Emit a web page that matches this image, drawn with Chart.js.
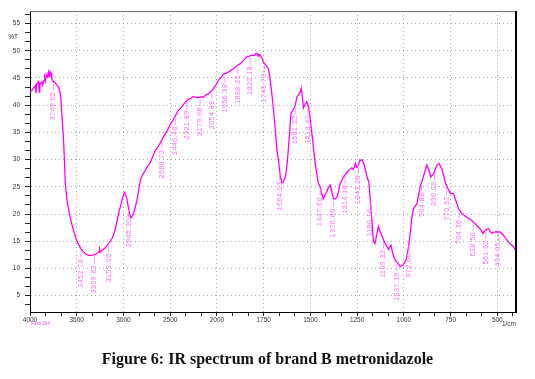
<!DOCTYPE html>
<html>
<head>
<meta charset="utf-8">
<script src="https://cdn.jsdelivr.net/npm/chart.js"></script>
<style>
  html, body { margin: 0; padding: 0; background: #fff; }
  #wrap { position: relative; width: 535px; height: 379px; }
  #chart { position: absolute; left: 0; top: 0; }
  #caption { position: absolute; left: 0; top: 350px; width: 535px; text-align: center;
    font: bold 16px "Liberation Serif", "Times New Roman", serif; line-height: 18px; color: #111; }
</style>
</head>
<body>
<div id="wrap">
  <canvas id="chart" width="535" height="379"></canvas>
  <div id="caption">Figure 6: IR spectrum of brand B metronidazole</div>
</div>
<script>
// spectrum (cm-1, %T)
const wavenumbers = [
  4000, 3989, 3975, 3965, 3952, 3943, 3936, 3930, 3920, 3911, 3905, 3901, 3895, 3885, 3872, 3865,
  3858, 3850, 3842, 3834, 3826, 3815, 3808, 3801, 3795, 3788, 3782, 3775, 3767, 3758, 3748, 3738,
  3729, 3720, 3711, 3697, 3683, 3675, 3668, 3655, 3641, 3633, 3622, 3604, 3587, 3569, 3552, 3534,
  3510, 3487, 3457, 3427, 3400, 3373, 3345, 3320, 3300, 3280, 3262, 3256, 3250, 3230, 3200, 3176,
  3150, 3123, 3105, 3088, 3070, 3052, 3034, 3016, 3000, 2991, 2977, 2963, 2948, 2935, 2920, 2905,
  2892, 2875, 2856, 2838, 2820, 2795, 2767, 2740, 2713, 2685, 2660, 2620, 2585, 2540, 2500, 2455,
  2411, 2393, 2380, 2355, 2321, 2286, 2250, 2220, 2197, 2170, 2143, 2115, 2090, 2060, 2036, 2015,
  2000, 1991, 1978, 1965, 1947, 1929, 1911, 1893, 1880, 1866, 1852, 1840, 1826, 1813, 1800, 1792,
  1786, 1780, 1775, 1768, 1760, 1751, 1738, 1724, 1715, 1706, 1697, 1688, 1679, 1670, 1661, 1652,
  1645, 1634, 1625, 1617, 1610, 1604, 1590, 1581, 1572, 1563, 1554, 1549, 1543, 1537, 1528, 1519,
  1510, 1501, 1492, 1483, 1474, 1465, 1457, 1448, 1440, 1431, 1422, 1413, 1404, 1394, 1385, 1376,
  1367, 1358, 1350, 1341, 1323, 1310, 1296, 1278, 1269, 1260, 1252, 1243, 1235, 1224, 1212, 1198,
  1187, 1172, 1163, 1154, 1144, 1136, 1127, 1118, 1100, 1082, 1069, 1059, 1046, 1029, 1020, 1012,
  1005, 988, 975, 966, 957, 948, 930, 913, 904, 886, 877, 865, 856, 841, 823, 811,
  797, 778, 769, 752, 734, 716, 708, 690, 663, 636, 610, 592, 577, 565, 547, 533,
  511, 485, 467, 449, 432, 414, 400
];
const transmittance = [
  42.4, 42.6, 42.8, 43.1, 43.4, 43.6, 42.2, 43.9, 44.0, 44.3, 43.2, 42.4, 43.8, 44.1, 44.3, 43.7,
  44.0, 44.6, 45.1, 44.5, 45.6, 45.2, 45.9, 46.2, 45.3, 45.7, 46.1, 45.9, 44.8, 44.6, 44.3, 44.3,
  44.0, 43.9, 43.7, 43.4, 42.7, 42.0, 40.9, 37.2, 33.6, 30.5, 25.6, 22.5, 20.8, 19.4, 18.1, 17.0,
  15.6, 14.6, 13.7, 13.0, 12.6, 12.4, 12.4, 12.5, 12.6, 12.8, 13.0, 13.6, 13.0, 13.3, 13.7, 14.2,
  14.8, 15.5, 16.2, 17.2, 18.6, 20.1, 21.3, 22.5, 23.5, 24.0, 23.6, 22.8, 21.3, 20.1, 19.3, 19.6,
  20.1, 21.2, 22.5, 24.3, 26.2, 27.2, 28.0, 28.8, 29.5, 30.6, 31.7, 32.6, 33.8, 35.1, 36.4, 37.7,
  39.1, 39.4, 39.6, 40.2, 40.9, 41.2, 41.6, 41.4, 41.4, 41.5, 41.5, 41.9, 42.1, 42.6, 43.1, 43.6,
  44.0, 44.6, 45.1, 45.7, 45.9, 46.3, 46.7, 47.3, 47.5, 47.9, 48.5, 48.9, 49.0, 49.2, 49.1, 49.5,
  49.5, 49.0, 49.3, 49.2, 48.7, 47.9, 47.3, 46.7, 44.6, 42.0, 39.1, 35.5, 31.7, 29.8, 26.8, 25.7,
  25.9, 26.8, 29.0, 32.3, 35.5, 38.5, 39.3, 40.0, 41.5, 42.0, 42.4, 43.1, 41.5, 39.5, 40.2, 40.6,
  39.7, 37.5, 34.8, 32.0, 29.3, 27.2, 25.6, 25.0, 23.8, 22.8, 23.5, 24.0, 24.8, 25.3, 24.0, 22.8,
  22.8, 23.1, 24.0, 25.6, 26.8, 27.4, 28.0, 28.5, 28.2, 29.3, 28.6, 29.0, 29.8, 30.0, 29.0, 27.0,
  25.8, 19.4, 15.0, 14.6, 16.4, 17.7, 16.8, 16.0, 14.6, 13.5, 14.3, 12.7, 11.5, 10.9, 10.3, 10.5,
  10.6, 11.5, 14.0, 16.4, 19.4, 21.0, 21.9, 25.0, 25.9, 28.0, 29.0, 28.0, 26.8, 27.4, 29.0, 29.3,
  28.3, 25.8, 25.0, 23.8, 23.7, 21.9, 21.0, 20.1, 19.4, 18.8, 17.9, 17.3, 16.4, 17.0, 17.3, 16.5,
  16.7, 16.7, 16.1, 15.2, 14.6, 14.0, 13.2
];
// peak picks printed under the curve
const peakWavenumbers = [
  3749.62, 3452.72, 3309.62, 3159.06, 2945.30, 2588.73, 2446.48, 2321.89, 2179.98, 2054.89,
  1956.38, 1888.25, 1822.18, 1745.70, 1664.03, 1581.23, 1513.47, 1447.60, 1376.60, 1314.18,
  1243.20, 1180.16, 1109.23, 1037.16, 972.60, 904.88, 836.08, 770.37, 704.36, 628.50, 561.62, 494.05
];
const xTickLabels = [4000, 3500, 3000, 2500, 2000, 1750, 1500, 1250, 1000, 750, 500];
const yTickLabels = [5, 10, 15, 20, 25, 30, 35, 40, 45, 50, 55];

// the instrument doubles the scale below 2000 cm-1
const toAxis = w => w >= 2000 ? (4000 - w) / 2 : 1000 + (2000 - w);
const fromAxis = p => p <= 1000 ? 4000 - 2 * p : 2000 - (p - 1000);

const xMajor = xTickLabels.map(toAxis);
const xTicks = [];
xMajor.forEach((p, i) => {
  xTicks.push(p);
  const next = i < xMajor.length - 1 ? xMajor[i + 1] : p + 250;
  xTicks.push(p + (next - p) / 3);
  if (i < xMajor.length - 1) xTicks.push(p + 2 * (next - p) / 3);
});
const yTicks = [];
for (let k = 2; k <= 34; k++) yTicks.push(k * 5 / 3);

const isMajorX = v => xMajor.some(m => Math.abs(m - v) < 1e-6);
const isMajorY = v => yTickLabels.some(m => Math.abs(m - v) < 1e-6);

const curveAt = w => {
  for (let i = 0; i < wavenumbers.length - 1; i++) {
    const a = wavenumbers[i], b = wavenumbers[i + 1];
    if (w <= a && w >= b) {
      const t = (a - w) / (a - b);
      return transmittance[i] + t * (transmittance[i + 1] - transmittance[i]);
    }
  }
  return transmittance[transmittance.length - 1];
};

const tickFont = { family: '"Liberation Sans", Arial, sans-serif', size: 6.5 };
const gridGray = 'rgba(140,140,140,0.75)';

const decorations = {
  id: 'decorations',
  afterDatasetsDraw(chart) {
    const { ctx, scales: { x, y } } = chart;
    ctx.save();
    ctx.font = '7px "Liberation Sans", Arial, sans-serif';
    ctx.letterSpacing = '0.5px';
    ctx.fillStyle = '#ff66ff';
    ctx.strokeStyle = '#ff80ff';
    ctx.lineWidth = 0.8;
    peakWavenumbers.forEach(w => {
      const px = x.getPixelForValue(toAxis(w));
      const py = y.getPixelForValue(curveAt(w));
      ctx.beginPath();
      ctx.moveTo(px, py + 2);
      ctx.lineTo(px, py + 9);
      ctx.stroke();
      ctx.save();
      ctx.translate(px, py + 10);
      ctx.rotate(-Math.PI / 2);
      ctx.textAlign = 'right';
      ctx.textBaseline = 'middle';
      ctx.fillText(w.toFixed(2), 0, 0);
      ctx.restore();
    });
    ctx.restore();
  },
  afterDraw(chart) {
    const { ctx, chartArea: a } = chart;
    ctx.save();
    ctx.strokeStyle = '#777';
    ctx.lineWidth = 1;
    ctx.beginPath();
    ctx.moveTo(a.left, a.top + 0.5);
    ctx.lineTo(a.right, a.top + 0.5);
    ctx.stroke();
    ctx.strokeStyle = '#000';
    ctx.lineWidth = 2;
    ctx.beginPath();
    ctx.moveTo(a.right, a.top);
    ctx.lineTo(a.right, a.bottom);
    ctx.stroke();
    ctx.fillStyle = '#333';
    ctx.font = '6.5px "Liberation Sans", Arial, sans-serif';
    ctx.textAlign = 'center';
    ctx.textBaseline = 'middle';
    ctx.fillText('%T', 13, 37);
    ctx.textAlign = 'right';
    ctx.fillText('1/cm', a.right, 324);
    ctx.fillStyle = '#ff44ff';
    ctx.font = '4.5px "Liberation Sans", Arial, sans-serif';
    ctx.textAlign = 'left';
    ctx.fillText('Fuso 204', 31, 324);
    ctx.restore();
  }
};

new Chart(document.getElementById('chart'), {
  type: 'line',
  data: {
    datasets: [{
      data: wavenumbers.map((w, i) => ({ x: toAxis(w), y: transmittance[i] })),
      borderColor: '#ff00ff',
      borderWidth: 1.3,
      pointRadius: 0,
      tension: 0,
      fill: false
    }]
  },
  options: {
    responsive: false,
    animation: false,
    layout: { padding: { top: 11, left: 0, right: 19, bottom: 47 } },
    plugins: { legend: { display: false }, tooltip: { enabled: false } },
    scales: {
      x: {
        type: 'linear',
        min: 0,
        max: 2600,
        afterBuildTicks: s => { s.ticks = xTicks.map(v => ({ value: v })); },
        afterFit: s => { s.height = 20; },
        ticks: {
          autoSkip: false,
          maxRotation: 0,
          padding: 0,
          color: '#333',
          font: tickFont,
          callback: v => isMajorX(v) ? String(fromAxis(v)) : ''
        },
        grid: {
          color: c => c.tick && isMajorX(c.tick.value) ? gridGray : 'rgba(0,0,0,0)',
          tickColor: '#222',
          tickLength: 4,
          tickBorderDash: [],
          lineWidth: 1
        },
        border: { color: '#000', width: 1, dash: [1, 3] }
      },
      y: {
        min: 2,
        max: 57.3,
        afterBuildTicks: s => { s.ticks = yTicks.map(v => ({ value: v })); },
        afterFit: s => { s.width = 30; },
        ticks: {
          autoSkip: false,
          padding: 5,
          color: '#333',
          font: tickFont,
          callback: v => isMajorY(v) ? String(Math.round(v)) : ''
        },
        grid: {
          color: c => c.tick && isMajorY(c.tick.value) ? gridGray : 'rgba(0,0,0,0)',
          tickColor: '#222',
          tickLength: 5,
          tickBorderDash: [],
          lineWidth: 1
        },
        border: { color: '#000', width: 1, dash: [1, 3] }
      }
    }
  },
  plugins: [decorations]
});
</script>
</body>
</html>
